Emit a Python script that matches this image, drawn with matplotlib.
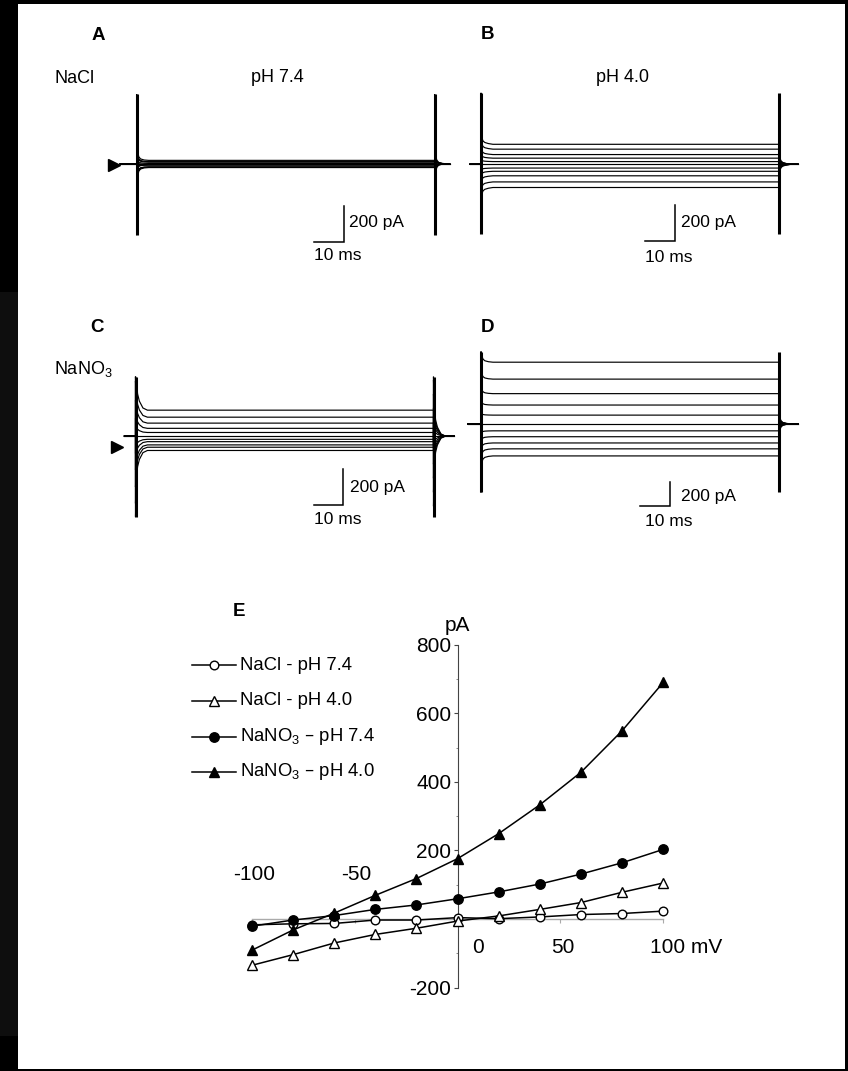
import numpy as np
import matplotlib
matplotlib.use('Agg')
import matplotlib.pyplot as plt
from matplotlib.lines import Line2D
from matplotlib.patches import Rectangle

plt.rcParams['font.family'] = ['Liberation Sans', 'DejaVu Sans']
plt.rcParams['mathtext.default'] = 'regular'

# ---------------- data ----------------
voltages_mV = [-100, -80, -60, -40, -20, 0, 20, 40, 60, 80, 100]
nacl_ph74 = [-17, -14, -13, -3, -3, 4, 1, 6, 13, 16, 23]
nacl_ph40 = [-135, -104, -70, -45, -27, -6, 9, 28, 48, 78, 105]
nano3_ph74 = [-21, -3, 10, 28, 41, 59, 79, 102, 131, 164, 203]
nano3_ph40 = [-91, -32, 17, 69, 118, 176, 249, 333, 428, 549, 690]

series_labels = ['NaCl - pH 7.4', 'NaCl - pH 4.0',
                 'NaNO$_3$ – pH 7.4', 'NaNO$_3$ – pH 4.0']

# pulse protocol (ms) and capacitive spikes (pA)
pulse_on_ms = 0.0
pulse_off_ms = 100.0
spike_hi = {'A': 390, 'B': 391, 'C': 389, 'D': 778}
spike_lo = {'A': -392, 'B': -393, 'C': -389, 'D': -395}
# capacitive transient after each voltage edge (pA per mV of step)
transient_t = [0.0, 0.3, 0.7, 1.3, 2.5, 4.0]
transient_gain = {
    'A': [3.9, 0.5, 0.2, 0.08, 0.02, 0.0],
    'B': [3.9, 0.35, 0.18, 0.1, 0.04, 0.0],
    'C': [3.9, 1.6, 0.9, 0.5, 0.12, 0.0],
    'D': [3.9, 0.5, 0.25, 0.12, 0.04, 0.0],
}

W, H = 848, 1071
fig = plt.figure(figsize=(W / 100, H / 100), dpi=100)
fig.patch.set_facecolor('white')


def frect(l, t, r, b):
    return [l / W, 1 - b / H, (r - l) / W, (b - t) / H]


def ftext(x, y, s, **kw):
    fig.text(x / W, 1 - y / H, s, **kw)


# black scan frame
for (l, t, r, b, c) in [(0, 0, 18, 292, '#000000'), (0, 292, 18, 1036, '#0e0e0e'),
                        (0, 1036, 18, H, '#000000'), (0, 0, W, 4, '#000000'),
                        (845, 0, W, H, '#000000'), (0, 1069, W, H, '#000000')]:
    fig.add_artist(Rectangle((l / W, 1 - b / H), (r - l) / W, (b - t) / H,
                             transform=fig.transFigure, color=c, lw=0, zorder=10))

# ---------------- current-trace panels ----------------
px_per_ms = 2.98
panels = {
    'A': dict(data=nacl_ph74, box=(100, 85, 460, 250), x0=136.7, y0=164.5, ppa=0.18,
              arrow_x=113.7, pre=-5.5, post=105.0, bar=(344, 242),
              pa_txt=(349, 223), ms_txt=(338, 256)),
    'B': dict(data=nacl_ph40, box=(460, 85, 810, 250), x0=481.0, y0=163.2, ppa=0.18,
              arrow_x=None, pre=-3.7, post=106.4, bar=(675, 240.7),
              pa_txt=(681, 223), ms_txt=(669, 257)),
    'C': dict(data=nano3_ph74, box=(100, 340, 460, 530), x0=135.5, y0=446.7, ppa=0.18,
              arrow_x=117.0, pre=-3.7, post=107.0, bar=(343.4, 505),
              pa_txt=(350, 488), ms_txt=(338, 520)),
    'D': dict(data=nano3_ph40, box=(460, 340, 810, 530), x0=481.0, y0=445.0, ppa=0.12,
              arrow_x=None, pre=-4.4, post=106.4, bar=(670, 505.7),
              pa_txt=(681, 497), ms_txt=(669, 521)),
}

for key, p in panels.items():
    l, t, r, b = p['box']
    ax = fig.add_axes(frect(l, t, r, b))
    ax.set_xlim((l - p['x0']) / px_per_ms, (r - p['x0']) / px_per_ms)
    ax.set_ylim((p['y0'] - b) / p['ppa'], (p['y0'] - t) / p['ppa'])
    ax.axis('off')
    cur = p['data']
    hold = cur[voltages_mV.index(0)]
    lo, hi = spike_lo[key], spike_hi[key]
    tt = np.array(transient_t)
    kk = np.array(transient_gain[key])
    for v, i_ss in zip(voltages_mV, cur):
        on = np.clip(i_ss + v * kk, lo, hi)
        off = np.clip(hold - v * kk, lo, hi)
        ts = np.concatenate([[p['pre'], pulse_on_ms], pulse_on_ms + tt,
                             [pulse_off_ms], pulse_off_ms + tt, [p['post']]])
        ys = np.concatenate([[hold, hold], on, [i_ss], off, [hold]])
        ax.plot(ts, ys, color='black', lw=0.85, solid_joinstyle='miter')
    ax.vlines([pulse_on_ms, pulse_off_ms], lo, hi, color='black', lw=2.2)
    if p['arrow_x'] is not None:
        ax.plot([(p['arrow_x'] - p['x0']) / px_per_ms], [0], marker='>',
                ms=9, color='black', clip_on=False)
    bx = (p['bar'][0] - p['x0']) / px_per_ms
    by = (p['y0'] - p['bar'][1]) / p['ppa']
    ax.plot([bx - 10, bx, bx], [by, by, by + 200], color='black', lw=1.1,
            solid_joinstyle='miter', clip_on=False)
    ftext(p['pa_txt'][0], p['pa_txt'][1], '200 pA', fontsize=12.5, ha='left', va='center')
    ftext(p['ms_txt'][0], p['ms_txt'][1], '10 ms', fontsize=12.5, ha='center', va='center')

# panel titles
ftext(97.8, 35.5, 'A', fontsize=13.5, fontweight='bold', ha='center', va='center')
ftext(487.5, 34.5, 'B', fontsize=13.5, fontweight='bold', ha='center', va='center')
ftext(97.0, 327.5, 'C', fontsize=13.5, fontweight='bold', ha='center', va='center')
ftext(487.5, 327.5, 'D', fontsize=13.5, fontweight='bold', ha='center', va='center')
ftext(238.8, 611.7, 'E', fontsize=13.5, fontweight='bold', ha='center', va='center')
ftext(55, 83, 'NaCl', fontsize=13, ha='left', va='baseline')
ftext(277, 82, 'pH 7.4', fontsize=13, ha='center', va='baseline')
ftext(623, 82, 'pH 4.0', fontsize=13, ha='center', va='baseline')
ftext(54, 374, 'NaNO$_3$', fontsize=13, ha='left', va='baseline')

# ---------------- I-V plot ----------------
x0, ppmv = 457.6, 2.057
y0, ppa = 919.0, 0.343
l, t, r, b = 225, 600, 700, 1010
ax = fig.add_axes(frect(l, t, r, b))
ax.set_xlim((l - x0) / ppmv, (r - x0) / ppmv)
ax.set_ylim((y0 - b) / ppa, (y0 - t) / ppa)
ax.patch.set_alpha(0)
for s in ['top', 'right']:
    ax.spines[s].set_visible(False)
ax.spines['left'].set_position(('data', 0))
ax.spines['bottom'].set_position(('data', 0))
ax.spines['left'].set_bounds(-200, 800)
ax.spines['bottom'].set_bounds(-100, 100)
ax.spines['left'].set_color('#444444')
ax.spines['left'].set_linewidth(0.8)
ax.spines['bottom'].set_color('#aaaaaa')
ax.spines['bottom'].set_linewidth(1.0)
ax.set_yticks([-200, 200, 400, 600, 800])
ax.set_yticklabels(['-200', '200', '400', '600', '800'])
ax.set_yticks(np.arange(-100, 800, 200), minor=True)
ax.tick_params(axis='y', which='major', direction='out', length=3, width=0.8,
               color='#444444', labelsize=15, pad=1.5)
ax.tick_params(axis='y', which='minor', direction='out', length=1.8, width=0.6,
               color='#777777')
ax.set_xticks([-100, -50, 50, 100])
ax.set_xticklabels([])
ax.tick_params(axis='x', which='major', direction='out', length=3, width=0.8,
               color='#aaaaaa')

styles = [
    dict(marker='o', mfc='white', ms=6.2),
    dict(marker='^', mfc='white', ms=7.3),
    dict(marker='o', mfc='black', ms=6.8),
    dict(marker='^', mfc='black', ms=7.8),
]
for ys, st in zip([nacl_ph74, nacl_ph40, nano3_ph74, nano3_ph40], styles):
    ax.plot(voltages_mV, ys, color='black', lw=1.1, mec='black', mew=1.0,
            clip_on=False, zorder=3, **st)

fs_tick = 15
ax.text(-98.7, 131, '-100', fontsize=fs_tick, ha='center', va='center')
ax.text(-49.1, 131, '-50', fontsize=fs_tick, ha='center', va='center')
ax.text(9.9, -82, '0', fontsize=fs_tick, ha='center', va='center')
ax.text(51.2, -82, '50', fontsize=fs_tick, ha='center', va='center')
ax.text(93.5, -82, '100 mV', fontsize=fs_tick, ha='left', va='center')
ax.text(0, 857, 'pA', fontsize=fs_tick, ha='center', va='center')

# legend (manual)
leg_y = [665, 700.5, 736.5, 772]
for yy, lab, st in zip(leg_y, series_labels, styles):
    ln = Line2D([192 / W, 214 / W, 236 / W], [1 - yy / H] * 3, transform=fig.transFigure,
                color='black', lw=1.1, mec='black', mew=1.0, markevery=[1], **st)
    fig.add_artist(ln)
    ftext(239.6, yy, lab, fontsize=13.3, ha='left', va='center')

fig.savefig('out.png', dpi=100, facecolor='white')
